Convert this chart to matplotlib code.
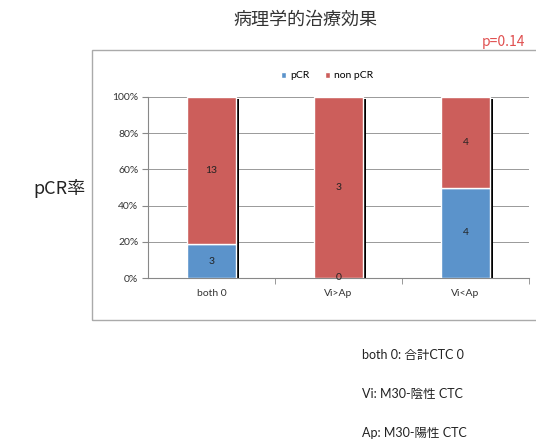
import matplotlib
matplotlib.use("Agg")
import matplotlib.pyplot as plt
from matplotlib.patches import Rectangle
import numpy as np

plt.rcParams['font.family'] = ['Lato', 'Noto Sans CJK JP', 'DejaVu Sans']
CJK = ['Noto Sans CJK JP', 'DejaVu Sans']

categories = ["both 0", "Vi>Ap", "Vi<Ap"]
pcr = [3, 0, 4]
non_pcr = [13, 3, 4]
title = "病理学的治療効果"
ylabel = "pCR率"
pval = "p=0.14"
notes = ["both 0: 合計CTC 0", "Vi: M30-陰性 CTC", "Ap: M30-陽性 CTC"]

blue = "#5B93CB"
red = "#CC5E5B"

fig = plt.figure(figsize=(5.36, 4.41), dpi=100)
W, H = 536, 441

# outer chart frame
frame = Rectangle((92 / W, 1 - 320 / H), (540 - 92) / W, (320 - 50) / H,
                  transform=fig.transFigure, fill=False, edgecolor="#AAAAAA",
                  linewidth=1.0, clip_on=False)
fig.patches.append(frame)

ax = fig.add_axes([148 / W, 1 - 278 / H, (529 - 148) / W, (278 - 97) / H])
x = np.arange(len(categories))
tot = np.array(pcr) + np.array(non_pcr)
p_pct = np.array(pcr) / tot * 100
n_pct = np.array(non_pcr) / tot * 100
bw = 0.39
ax.bar(x + bw / 2 + 0.012, 99, bottom=0, width=0.018, color="black", zorder=2)
ax.bar(x, p_pct, width=bw, color=blue, edgecolor="white", linewidth=1.0, label="pCR", zorder=3)
ax.bar(x, n_pct, bottom=p_pct, width=bw, color=red, edgecolor="white", linewidth=1.0, label="non pCR", zorder=3)

for i in range(len(categories)):
    if pcr[i] > 0:
        ax.text(x[i], p_pct[i] / 2, str(pcr[i]), ha="center", va="center", fontsize=7.5, color="#222222", zorder=4)
    else:
        ax.text(x[i], 0, str(pcr[i]), ha="center", va="center", fontsize=7.5, color="#222222", zorder=4)
    ax.text(x[i], p_pct[i] + n_pct[i] / 2, str(non_pcr[i]), ha="center", va="center", fontsize=7.5, color="#222222", zorder=4)

ax.set_xlim(-0.5, 2.5)
ax.set_ylim(0, 100)
ax.set_yticks(np.arange(0, 101, 20))
ax.set_yticklabels([f"{v}%" for v in range(0, 101, 20)], fontsize=7.5, color="#333333")
ax.set_xticks(x)
ax.set_xticklabels(categories, fontsize=7.5, color="#333333")
ax.tick_params(axis="x", length=0, pad=8)
ax.set_xticks([0.5, 1.5, 2.5], minor=True)
ax.tick_params(axis="x", which="minor", length=4, color="#888888")
ax.tick_params(axis="y", length=4, color="#888888", pad=3)
ax.yaxis.grid(True, color="#999999", linewidth=0.7, zorder=0)
ax.set_axisbelow(True)
for s in ["top", "right"]:
    ax.spines[s].set_visible(False)
ax.spines["left"].set_color("#888888")
ax.spines["bottom"].set_color("#888888")

ax.legend(loc="lower center", bbox_to_anchor=(0.47, 1.04), ncol=2, frameon=False,
          fontsize=7.5, handlelength=0.5, handleheight=0.5, handletextpad=0.4,
          columnspacing=1.5)

fig.text(305 / W, 1 - 20 / H, title, ha="center", va="center", fontsize=13, color="#333333", family=CJK)
fig.text(503 / W, 1 - 42 / H, pval, ha="center", va="center", fontsize=10, color="#E05050", family=CJK)
fig.text(59 / W, 1 - 188 / H, ylabel, ha="center", va="center", fontsize=13, color="#222222", family=CJK)
for i, t in enumerate(notes):
    fig.text(362 / W, 1 - (355 + 39 * i) / H, t, ha="left", va="center", fontsize=9, color="#222222")

fig.savefig("out.png", dpi=100)
